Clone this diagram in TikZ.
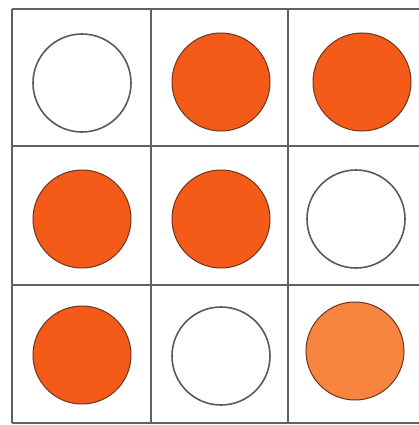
\documentclass[tikz,border=0pt]{standalone}
\definecolor{gridc}{HTML}{5F635C}
\definecolor{dotc}{HTML}{F45A18}
\definecolor{dotl}{HTML}{F7843F}
\definecolor{rimc}{HTML}{6E3420}
\definecolor{ringc}{HTML}{5A5A5A}
\begin{document}
\begin{tikzpicture}[x=1pt,y=-1pt,
  gridline/.style={draw=gridc,line width=1.4pt},
  emptydot/.style={circle,draw=ringc,line width=1.6pt,fill=white,minimum size=98pt,inner sep=0pt},
  fulldot/.style={circle,draw=rimc,line width=1pt,fill=dotc,minimum size=98pt,inner sep=0pt},
  lightdot/.style={fulldot,fill=dotl}]
\useasboundingbox (0,0) rectangle (419,425);
\fill[white] (0,0) rectangle (419,425);
\draw[gridline] (12,9) -- (430,9);
\draw[gridline] (12,146) -- (430,146);
\draw[gridline] (12,285) -- (430,285);
\draw[gridline] (12,423) -- (430,423);
\draw[gridline] (12,9) -- (12,423);
\draw[gridline] (151,9) -- (151,423);
\draw[gridline] (288,9) -- (288,423);
\node[emptydot] (a1) at (82,83) {};
\node[fulldot] (a2) at (221,82) {};
\node[fulldot] (a3) at (362,82) {};
\node[fulldot] (b1) at (82,219) {};
\node[fulldot] (b2) at (221,219) {};
\node[emptydot] (b3) at (356,219) {};
\node[fulldot] (c1) at (82,355) {};
\node[emptydot] (c2) at (221,356) {};
\node[lightdot] (c3) at (355,351) {};
\end{tikzpicture}
\end{document}
